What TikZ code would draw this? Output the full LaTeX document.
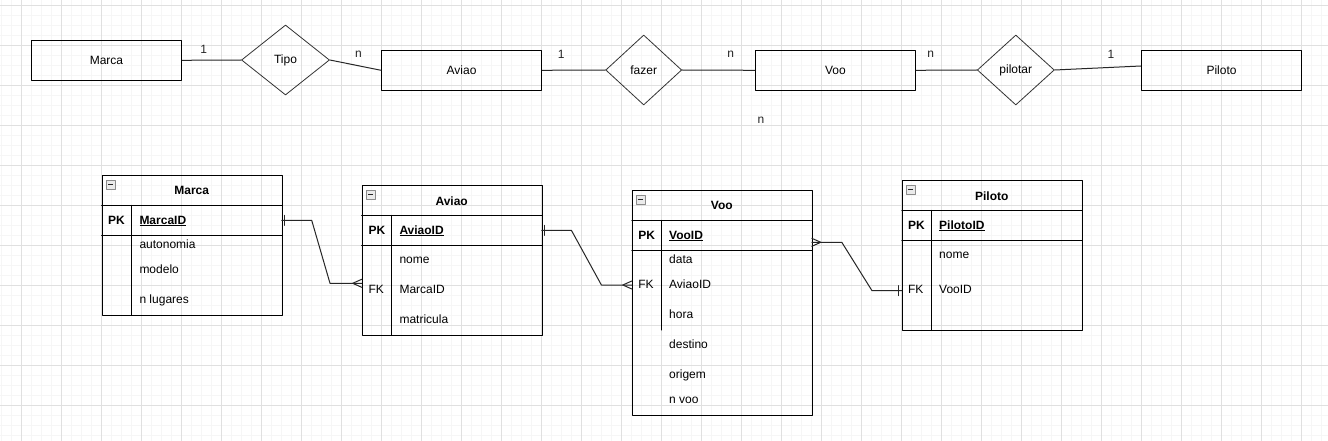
\documentclass[tikz,border=0pt]{standalone}
\usepackage{fontspec}
\setmainfont{Liberation Sans}
\usetikzlibrary{shapes.geometric}

\begin{document}
\begin{tikzpicture}[x=1pt, y=-1pt, line cap=round, line join=round,
    entidade/.style={draw=black, line width=1.1pt, minimum width=160, minimum height=40, inner sep=0pt, font=\fontsize{12}{14}\selectfont},
    relacao/.style={draw=black!80, line width=0.8pt, diamond, inner sep=0pt, minimum height=70, font=\fontsize{12}{14}\selectfont},
    card/.style={inner sep=0pt, text=black!85, font=\fontsize{12}{14}\selectfont},
    tabela/.style={draw=black, line width=1pt, inner sep=0pt, anchor=north west, minimum width=180},
    titulo/.style={inner sep=0pt, font=\fontsize{12}{14}\selectfont\bfseries},
    campo/.style={inner sep=0pt, anchor=west, text height=8.6pt, text depth=1.2pt, font=\fontsize{12}{14}\selectfont},
    linha/.style={line width=1pt},
    liga/.style={line width=1pt, black!85}]

      % Grelha
      \useasboundingbox (0,0) rectangle (1328,441);
      \fill[white] (0,0) rectangle (1328,441);
      \foreach \x in {1.3,11.3,...,1328} \draw[black!3.5, line width=0.7pt] (\x,0) -- (\x,441);
      \foreach \y in {5.3,15.3,...,441} \draw[black!3.5, line width=0.7pt] (0,\y) -- (1328,\y);
      \foreach \x in {21.3,61.3,...,1328} \draw[black!12, line width=0.8pt] (\x,0) -- (\x,441);
      \foreach \y in {5.3,45.3,...,441} \draw[black!12, line width=0.8pt] (0,\y) -- (1328,\y);

      % Icone de recolher
      \def\icone#1#2{
        \draw[draw=black!45, fill=black!8, line width=0.6pt] (#1+4.5,#2+4.5) rectangle (#1+13.5,#2+13.5);
        \draw[line width=1pt, black!85, line cap=butt] (#1+6.5,#2+9) -- (#1+11.5,#2+9);
      }

      % Modelo conceptual
      \node[entidade, minimum width=150] (marca) at (106.5,60.3) {Marca};
      \node[relacao, minimum width=88] (tipo) at (285.5,60) {Tipo};
      \node[entidade] (aviao) at (461.6,70.3) {Aviao};
      \node[relacao, minimum width=76] (fazer) at (643.7,70) {fazer};
      \node[entidade] (voo) at (835.4,70.3) {Voo};
      \node[relacao, minimum width=77] (pilotar) at (1015.8,70) {pilotar};
      \node[entidade] (piloto) at (1221.5,70.3) {Piloto};

      \draw[liga] (marca.east) -- (tipo.west);
      \draw[liga] (tipo.east) -- (aviao.west);
      \draw[liga] (aviao.east) -- (fazer.west);
      \draw[liga] (fazer.east) -- (voo.west);
      \draw[liga] (voo.east) -- (pilotar.west);
      \draw[liga] (pilotar.east) -- ([yshift=4.3pt]piloto.west);

      % Cardinalidades
      \node[card] (cMarca) at (203.6,49.3) {1};
      \node[card] (cTipo) at (358.5,54.5) {n};
      \node[card] (cAviao) at (561.2,54) {1};
      \node[card] (cFazer) at (730.8,54.5) {n};
      \node[card] (cVooB) at (761,120) {n};
      \node[card] (cVoo) at (930.8,54.5) {n};
      \node[card] (cPiloto) at (1111,54) {1};

      % Tabela Marca
      \node[tabela, minimum height=140] (tMarca) at (101.7,175.3) {};
      \icone{101.7}{175.3}
      \node[titulo] (tMarcaTit) at (191.7,190.8) {Marca};
      \draw[linha] (101.7,205.3) -- (281.7,205.3);
      \draw[linha] (101.7,235.3) -- (281.7,235.3);
      \draw[linha] (131.7,205.3) -- (131.7,315.3);
      \node[campo, font=\fontsize{12}{14}\selectfont\bfseries] (tMarcaPK) at (108,220.3) {PK};
      \node[campo, font=\fontsize{12}{14}\selectfont\bfseries] (tMarcaID) at (139.3,220.3) {\underline{MarcaID}};
      \foreach \nome/\y [count=\i] in {autonomia/245, modelo/270, n lugares/300}
        \node[campo] (tMarca\i) at (139.3,\y) {\nome};

      % Tabela Aviao
      \node[tabela, minimum height=150] (tAviao) at (361.7,185.3) {};
      \icone{361.7}{185.3}
      \node[titulo] (tAviaoTit) at (451.7,200.8) {Aviao};
      \draw[linha] (361.7,215.3) -- (541.7,215.3);
      \draw[linha] (361.7,245.3) -- (541.7,245.3);
      \draw[linha] (391.7,215.3) -- (391.7,335.3);
      \node[campo, font=\fontsize{12}{14}\selectfont\bfseries] (tAviaoPK) at (368.3,230.3) {PK};
      \node[campo, font=\fontsize{12}{14}\selectfont\bfseries] (tAviaoID) at (399.3,230.3) {\underline{AviaoID}};
      \node[campo] (tAviaoFK) at (368.3,290) {FK};
      \foreach \nome/\y [count=\i] in {nome/260, MarcaID/290, matricula/320}
        \node[campo] (tAviao\i) at (399.3,\y) {\nome};

      % Tabela Voo
      \node[tabela, minimum height=225] (tVoo) at (631.8,190.3) {};
      \icone{631.8}{190.3}
      \node[titulo] (tVooTit) at (721.8,205.8) {Voo};
      \draw[linha] (631.8,220.3) -- (811.8,220.3);
      \draw[linha] (631.8,250.3) -- (811.8,250.3);
      \draw[linha] (661.8,220.3) -- (661.8,330);
      \node[campo, font=\fontsize{12}{14}\selectfont\bfseries] (tVooPK) at (638.2,235.3) {PK};
      \node[campo, font=\fontsize{12}{14}\selectfont\bfseries] (tVooID) at (669,235.3) {\underline{VooID}};
      \node[campo] (tVooFK) at (638.2,284.3) {FK};
      \foreach \nome/\y [count=\i] in {data/260, AviaoID/284.3, hora/314.3, destino/345, origem/375, n voo/400}
        \node[campo] (tVoo\i) at (669,\y) {\nome};

      % Tabela Piloto
      \node[tabela, minimum height=150] (tPiloto) at (901.8,180.3) {};
      \icone{901.8}{180.3}
      \node[titulo] (tPilotoTit) at (991.8,195.8) {Piloto};
      \draw[linha] (901.8,210.3) -- (1081.8,210.3);
      \draw[linha] (901.8,240.3) -- (1081.8,240.3);
      \draw[linha] (931.8,210.3) -- (931.8,330.3);
      \node[campo, font=\fontsize{12}{14}\selectfont\bfseries] (tPilotoPK) at (907.9,225.3) {PK};
      \node[campo, font=\fontsize{12}{14}\selectfont\bfseries] (tPilotoID) at (939,225.3) {\underline{PilotoID}};
      \node[campo] (tPilotoFK) at (907.9,290) {FK};
      \foreach \nome/\y [count=\i] in {nome/255, VooID/290}
        \node[campo] (tPiloto\i) at (939,\y) {\nome};

      % Pontos de ligacao
      \coordinate (mPK) at (281.7,220.3);
      \coordinate (aFK) at (361.7,283.3);
      \coordinate (aPK) at (541.7,230.3);
      \coordinate (vFK) at (631.8,285);
      \coordinate (vPK) at (811.8,242.3);
      \coordinate (pFK) at (901.8,290.7);

      % Ligacoes entre tabelas
      \draw[liga] (mPK) -- ++(30,0) -- ([xshift=-31.7pt]aFK) -- (aFK);
      \draw[liga] (aPK) -- ++(29.7,0) -- ([xshift=-30.4pt]vFK) -- (vFK);
      \draw[liga] (vPK) -- ++(30,0) -- ([xshift=-29.8pt]pFK) -- (pFK);

      % Um (traco) e muitos (pe de galinha)
      \draw[liga] ([xshift=3pt]mPK) ++(0,-5) -- ++(0,10);
      \draw[liga] ([xshift=3pt]aPK) ++(0,-5) -- ++(0,10);
      \draw[liga] ([xshift=-3.5pt]pFK) ++(0,-5) -- ++(0,10);
      \draw[liga] (aFK) ++(-9,0) -- ++(9,-4) ++(0,8) -- ++(-9,-4);
      \draw[liga] (vFK) ++(-9,0) -- ++(9,-4) ++(0,8) -- ++(-9,-4);
      \draw[liga] (vPK) ++(9,0) -- ++(-9,-4) ++(0,8) -- ++(9,-4);
    \end{tikzpicture}
\end{document}
